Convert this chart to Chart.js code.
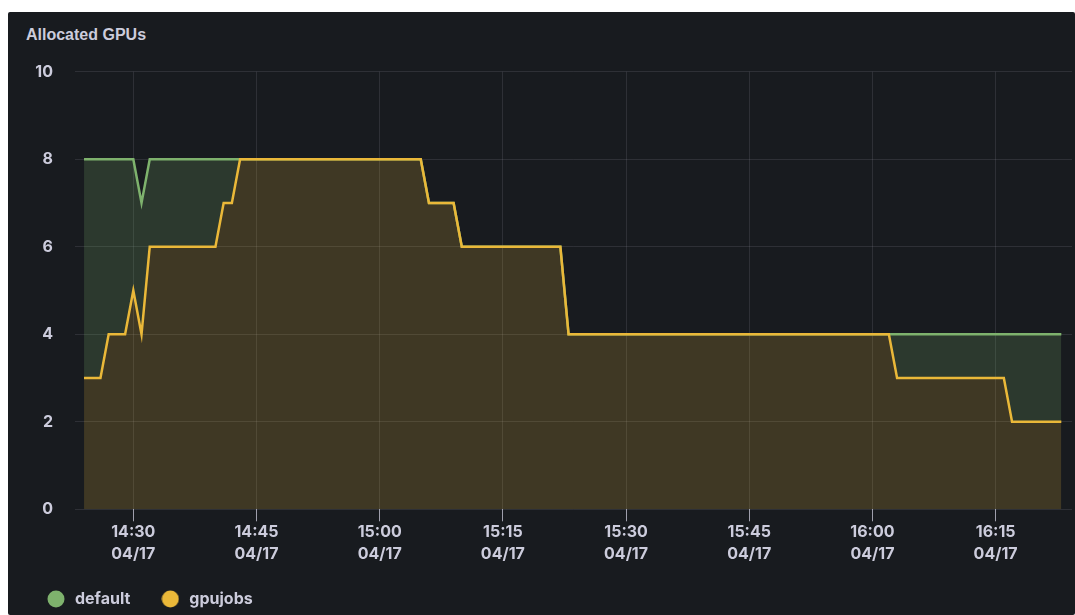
<!DOCTYPE html>
<html>
<head>
<meta charset="utf-8">
<script src="https://cdn.jsdelivr.net/npm/chart.js@4/dist/chart.umd.min.js"></script>
<style>
  html, body { margin: 0; padding: 0; background: #ffffff; overflow: hidden; width: 1075px; height: 615px; }
  #panel { position: absolute; left: 8px; top: 12px; right: 0; bottom: 0; background: #181b1f; border-radius: 2px; }
  #title { position: absolute; left: 26px; top: 27px; font: 700 16px "Liberation Sans", Arial, sans-serif; line-height: 16px; color: #ccccdc; }
  #myChart { position: absolute; left: 0; top: 0; }
</style>
</head>
<body>
<div id="panel"></div>
<div id="title">Allocated GPUs</div>
<canvas id="myChart" width="1075" height="617"></canvas>
<script>
const canvas = document.getElementById('myChart');

// Werte (nur Knickpunkte, 1-Minuten-Raster)
const defaultTimes = ['14:24', '14:30', '14:31', '14:32', '15:05', '15:06', '15:09', '15:10', '15:22', '15:23', '16:23'];
const defaultValues = [8, 8, 7, 8, 8, 7, 7, 6, 6, 4, 4];
const gpujobsTimes = ['14:24', '14:26', '14:27', '14:29', '14:30', '14:31', '14:32', '14:40', '14:41', '14:42', '14:43',
    '15:05', '15:06', '15:09', '15:10', '15:22', '15:23', '16:02', '16:03', '16:16', '16:17', '16:23'];
const gpujobsValues = [3, 3, 4, 4, 5, 4, 6, 6, 7, 7, 8, 8, 7, 7, 6, 6, 4, 4, 3, 3, 2, 2];
const xTickLabels = ['14:30', '14:45', '15:00', '15:15', '15:30', '15:45', '16:00', '16:15'];
const dateLabel = '04/17';
const yTicks = [0, 2, 4, 6, 8, 10];

const textColor = '#ccccdc';
const gridColor = 'rgba(204, 204, 220, 0.12)';
const green = '#7eb26d';
const yellow = '#eab839';

function toMinutes(str) {
    const parts = str.split(':').map(Number);
    return parts[0] * 60 + parts[1];
}
function fromMinutes(v) {
    const h = Math.floor(v / 60);
    const m = Math.round(v - h * 60);
    return h + ':' + String(m).padStart(2, '0');
}
function toPoints(times, values) {
    return times.map((t, i) => ({ x: toMinutes(t), y: values[i] }));
}
// Kreis fuer die Legende
function dot(color) {
    const c = document.createElement('canvas');
    c.width = 18;
    c.height = 18;
    const ctx = c.getContext('2d');
    ctx.fillStyle = color;
    ctx.beginPath();
    ctx.arc(9, 9, 8.5, 0, Math.PI * 2);
    ctx.fill();
    return c;
}
const dots = [dot(green), dot(yellow)];

const font = { family: 'Inter, sans-serif', size: 16, weight: 'bold' };

const myChart = new Chart(canvas, {
    type: 'line',
    data: {
        datasets: [{
            label: 'default',
            data: toPoints(defaultTimes, defaultValues),
            borderColor: green,
            backgroundColor: 'rgba(126, 178, 109, 0.2)',
            borderWidth: 2.5,
            pointRadius: 0,
            tension: 0,
            fill: '+1',
            order: 1
        }, {
            label: 'gpujobs',
            data: toPoints(gpujobsTimes, gpujobsValues),
            borderColor: yellow,
            backgroundColor: 'rgba(234, 184, 57, 0.19)',
            borderWidth: 2.5,
            pointRadius: 0,
            tension: 0,
            fill: 'origin',
            order: 0
        }]
    },
    options: {
        responsive: false,
        animation: false,
        layout: { padding: { left: 16, right: 3, top: 71.7, bottom: 0 } },
        scales: {
            x: {
                type: 'linear',
                min: 862.9,
                max: 984.3,
                afterFit: (scale) => { scale.height = 52.7; },
                afterBuildTicks: (scale) => {
                    scale.ticks = xTickLabels.map(t => ({ value: toMinutes(t) }));
                },
                grid: { color: gridColor, tickColor: 'rgba(204, 204, 220, 0.75)', tickLength: 12, drawTicks: true },
                border: { display: false },
                ticks: {
                    color: textColor,
                    font: { ...font, lineHeight: 1.375 },
                    padding: 0,
                    autoSkip: false,
                    maxRotation: 0,
                    callback: (value) => [fromMinutes(value), dateLabel]
                }
            },
            y: {
                min: 0,
                max: 10,
                afterFit: (scale) => { scale.width = 59; },
                afterBuildTicks: (scale) => {
                    scale.ticks = yTicks.map(v => ({ value: v }));
                },
                grid: { color: gridColor, drawTicks: false },
                border: { display: false },
                ticks: { color: textColor, font: font, padding: 22 }
            }
        },
        plugins: {
            legend: {
                position: 'bottom',
                align: 'start',
                labels: {
                    color: textColor,
                    font: font,
                    usePointStyle: true,
                    pointStyleWidth: 22,
                    padding: 29,
                    sort: (a, b) => a.datasetIndex - b.datasetIndex,
                    generateLabels: (chart) => {
                        const items = Chart.defaults.plugins.legend.labels.generateLabels(chart);
                        items.forEach(item => { item.pointStyle = dots[item.datasetIndex]; });
                        return items;
                    }
                }
            },
            tooltip: { enabled: false }
        }
    }
});
</script>
</body>
</html>
